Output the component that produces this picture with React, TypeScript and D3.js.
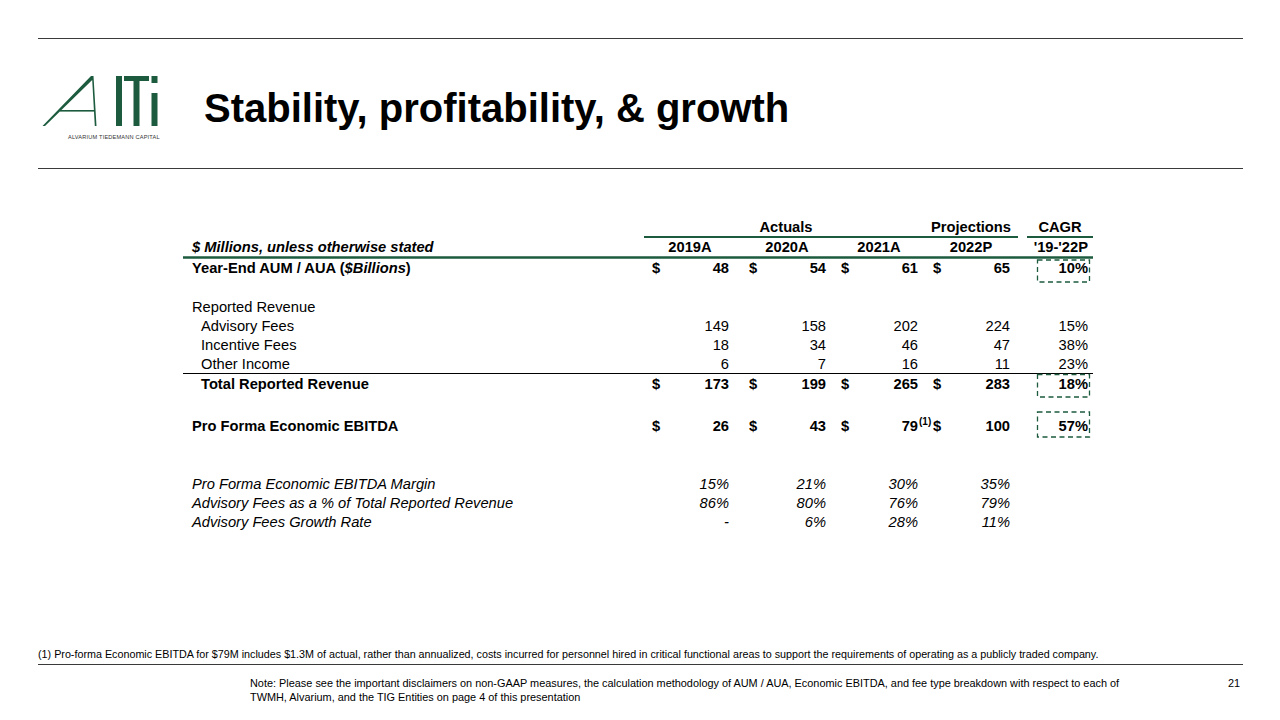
import React from "react";
import * as d3 from "d3";

// ---------- data ----------
const years = ["2019A", "2020A", "2021A", "2022P"];
const groupHeaders = ["Actuals", "Projections", "CAGR"];
const cagrPeriod = "'19-'22P";

const aumValues = [48, 54, 61, 65];
const advisoryFees = [149, 158, 202, 224];
const incentiveFees = [18, 34, 46, 47];
const otherIncome = [6, 7, 16, 11];
const totalRevenue = [173, 199, 265, 283];
const ebitdaValues = [26, 43, 79, 100];

const cagrAum = "10%";
const cagrAdvisory = "15%";
const cagrIncentive = "38%";
const cagrOther = "23%";
const cagrTotal = "18%";
const cagrEbitda = "57%";

const ebitdaMargin = ["15%", "21%", "30%", "35%"];
const advisoryShare = ["86%", "80%", "76%", "79%"];
const advisoryGrowth = ["-", "6%", "28%", "11%"];

// ---------- style ----------
const GREEN = "#1d5b3e";
const RULE = "#3a3a3a";
const FONT = "'Liberation Sans', Arial, Helvetica, sans-serif";
const FS = 14.7;

const colRight = d3.scaleOrdinal<string, number>().domain(years).range([729, 826, 918, 1010]);
const cagrRight = 1088;
const rowY = d3
  .scaleOrdinal<string, number>()
  .domain(["aum", "rep", "adv", "inc", "oth", "tot", "ebitda", "margin", "share", "growth"])
  .range([273, 312, 331, 350, 369, 389, 431, 489, 508, 527]);

type RowProps = {
  label: string;
  labelX: number;
  y: number;
  bold?: boolean;
  italic?: boolean;
  values?: (number | string)[];
  dollars?: boolean;
  cagr?: string;
  labelNode?: React.ReactNode;
};

function Row({ label, labelX, y, bold, italic, values, dollars, cagr, labelNode }: RowProps) {
  const fw = bold ? "bold" : "normal";
  const fs = italic ? "italic" : "normal";
  return (
    <g fontFamily={FONT} fontSize={FS} fontWeight={fw} fontStyle={fs} fill="#000">
      <text x={labelX} y={y}>{labelNode ?? label}</text>
      {values &&
        values.map((v, i) => {
          const r = colRight(years[i]);
          return (
            <g key={i}>
              {dollars && (
                <text x={r - 77} y={y}>$</text>
              )}
              <text x={r} y={y} textAnchor="end">{String(v)}</text>
            </g>
          );
        })}
      {cagr && (
        <text x={cagrRight} y={y} textAnchor="end">{cagr}</text>
      )}
    </g>
  );
}

function DashedBox({ y0, y1 }: { y0: number; y1: number }) {
  return (
    <rect x={1037.5} y={y0} width={52} height={y1 - y0} fill="none" stroke={GREEN} strokeWidth={1.3} strokeDasharray="5,3.5" />
  );
}

function Logo() {
  return (
    <g fill={GREEN} stroke="none">
      {/* A */}
      <path d="M42.5,126 L91,76 L93.5,76 L96.5,126 L94.8,126 L92.2,80 L45,126 Z" />
      <rect x={60} y={110} width={35} height={1.6} />
      {/* l */}
      <rect x={116} y={76} width={6} height={50} />
      {/* T */}
      <rect x={124} y={76} width={25} height={5} />
      <rect x={133.5} y={76} width={6} height={50} />
      {/* i */}
      <rect x={151.5} y={93} width={6} height={33} />
      <rect x={151.5} y={76} width={6} height={7} />
      <text x={68} y={139} fontFamily={FONT} fontSize={5.6} fill="#333" letterSpacing={0.2}>
        ALVARIUM TIEDEMANN CAPITAL
      </text>
    </g>
  );
}

export default function App() {
  return (
    <svg width={1280} height={720} style={{ position: "absolute", left: 0, top: 0, background: "#fff" }}>
      <rect width={1280} height={720} fill="#fff" />
      {/* page rules */}
      <line x1={38} x2={1243} y1={38.5} y2={38.5} stroke={RULE} strokeWidth={1} />
      <line x1={38} x2={1243} y1={168.5} y2={168.5} stroke={RULE} strokeWidth={1} />
      <line x1={38} x2={1243} y1={664.5} y2={664.5} stroke={RULE} strokeWidth={1} />

      <Logo />
      <text x={204} y={122} fontFamily={FONT} fontSize={40} fontWeight="bold" fill="#000">
        Stability, profitability, &amp; growth
      </text>

      {/* table header */}
      <g fontFamily={FONT} fontSize={FS} fontWeight="bold" fill="#000">
        <text x={786} y={232} textAnchor="middle">{groupHeaders[0]}</text>
        <text x={971} y={232} textAnchor="middle">{groupHeaders[1]}</text>
        <text x={1060} y={232} textAnchor="middle">{groupHeaders[2]}</text>
        <text x={192} y={252} fontStyle="italic">$ Millions, unless otherwise stated</text>
        {years.map((yr) => (
          <text key={yr} x={colRight(yr) - 39} y={252} textAnchor="middle">{yr}</text>
        ))}
        <text x={cagrRight} y={252} textAnchor="end">{cagrPeriod}</text>
      </g>
      <line x1={644} x2={1018} y1={237} y2={237} stroke={GREEN} strokeWidth={2} />
      <line x1={1027} x2={1093} y1={237} y2={237} stroke={GREEN} strokeWidth={2} />
      <line x1={183} x2={1093} y1={257.5} y2={257.5} stroke={GREEN} strokeWidth={2.5} />

      {/* body */}
      <Row
        label=""
        labelX={192}
        y={rowY("aum")}
        bold
        values={aumValues}
        dollars
        cagr={cagrAum}
        labelNode={
          <>
            Year-End AUM / AUA (<tspan fontStyle="italic">$Billions</tspan>)
          </>
        }
      />
      <Row label="Reported Revenue" labelX={192} y={rowY("rep")} />
      <Row label="Advisory Fees" labelX={201} y={rowY("adv")} values={advisoryFees} cagr={cagrAdvisory} />
      <Row label="Incentive Fees" labelX={201} y={rowY("inc")} values={incentiveFees} cagr={cagrIncentive} />
      <Row label="Other Income" labelX={201} y={rowY("oth")} values={otherIncome} cagr={cagrOther} />
      <line x1={183} x2={1093} y1={373.5} y2={373.5} stroke="#000" strokeWidth={1.2} />
      <Row label="Total Reported Revenue" labelX={201} y={rowY("tot")} bold values={totalRevenue} dollars cagr={cagrTotal} />
      <Row label="Pro Forma Economic EBITDA" labelX={192} y={rowY("ebitda")} bold values={ebitdaValues} dollars cagr={cagrEbitda} />
      <text x={colRight(years[2]) + 1} y={rowY("ebitda") - 6} fontFamily={FONT} fontSize={10} fontWeight="bold">(1)</text>

      <Row label="Pro Forma Economic EBITDA Margin" labelX={192} y={rowY("margin")} italic values={ebitdaMargin} />
      <Row label="Advisory Fees as a % of Total Reported Revenue" labelX={192} y={rowY("share")} italic values={advisoryShare} />
      <Row label="Advisory Fees Growth Rate" labelX={192} y={rowY("growth")} italic values={advisoryGrowth} />

      <DashedBox y0={260} y1={282} />
      <DashedBox y0={374.5} y1={397} />
      <DashedBox y0={412} y1={437} />

      {/* footnotes */}
      <g fontFamily={FONT} fill="#000">
        <text x={38} y={658} fontSize={10.75}>
          (1) Pro-forma Economic EBITDA for $79M includes $1.3M of actual, rather than annualized, costs incurred for personnel hired in critical functional areas to support the requirements of operating as a publicly traded company.
        </text>
        <text x={250} y={687} fontSize={10.9}>
          Note: Please see the important disclaimers on non-GAAP measures, the calculation methodology of AUM / AUA, Economic EBITDA, and fee type breakdown with respect to each of
        </text>
        <text x={250} y={701} fontSize={10.9}>TWMH, Alvarium, and the TIG Entities on page 4 of this presentation</text>
        <text x={1240} y={687} fontSize={10.9} textAnchor="end">21</text>
      </g>
    </svg>
  );
}
